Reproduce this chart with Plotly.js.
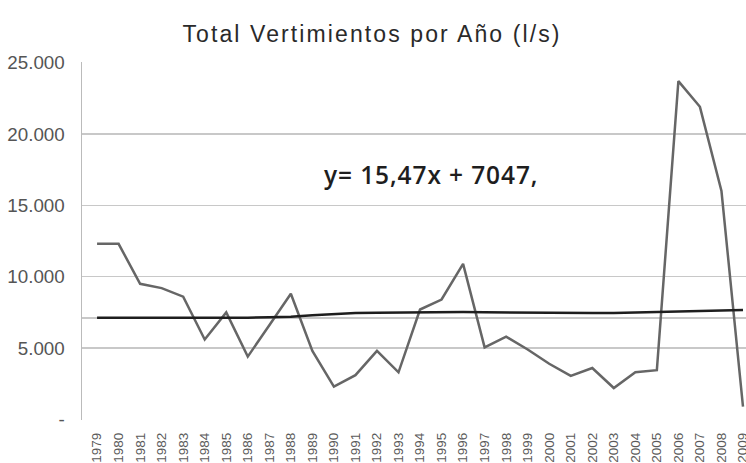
<!DOCTYPE html>
<html>
<head>
<meta charset="utf-8">
<script src="https://cdn.plot.ly/plotly-3.0.1.min.js"></script>
<style>
html,body{margin:0;padding:0;background:#fff;}
#chart{width:746px;height:463px;}
.gtitle{letter-spacing:2.1px;}
.annotation-text{letter-spacing:0.9px;}
</style>
</head>
<body>
<div id="chart"></div>
<script>
const years = [1979,1980,1981,1982,1983,1984,1985,1986,1987,1988,1989,1990,1991,1992,1993,1994,1995,1996,1997,1998,1999,2000,2001,2002,2003,2004,2005,2006,2007,2008,2009];
const yearLabels = years.map(String);
const vertimientos = [12300,12300,9500,9200,8600,5600,7500,4400,6600,8800,4800,2300,3100,4800,3300,7700,8400,10900,5050,5800,4900,3900,3050,3600,2200,3300,3450,23700,21900,16000,900];
const tendencia = [7130,7130,7120,7110,7100,7100,7110,7130,7160,7200,7300,7400,7450,7480,7500,7510,7520,7520,7500,7480,7470,7450,7440,7450,7460,7490,7530,7560,7590,7620,7660];
const lineaBase = 7100;
const yTickVals = [0,5000,10000,15000,20000,25000];
const yTickText = ['-','5.000','10.000','15.000','20.000','25.000'];
const titulo = 'Total Vertimientos por Año (l/s)';
const ecuacion = 'y= 15,47x + 7047,';

const traces = [
  {x: years, y: vertimientos, type: 'scatter', mode: 'lines',
   line: {color: '#666666', width: 2.5}, hoverinfo: 'skip'},
  {x: years, y: tendencia, type: 'scatter', mode: 'lines',
   line: {color: '#1e1e1e', width: 2.5}, hoverinfo: 'skip'}
];

const layout = {
  width: 746, height: 463,
  margin: {l: 82, r: 0, t: 62, b: 43},
  paper_bgcolor: '#ffffff', plot_bgcolor: '#ffffff',
  showlegend: false,
  title: {text: titulo, font: {family: 'Liberation Sans, Arial, sans-serif', size: 23, color: '#2a2a2a'},
          x: 372/746, xanchor: 'center', xref: 'container', yref: 'container', y: 1 - 34/463, yanchor: 'middle'},
  xaxis: {type: 'linear', range: [1978.30, 2009.14], tickvals: years, ticktext: yearLabels,
          tickangle: -90, ticks: '', ticklabelstandoff: 9, ticklabeloverflow: 'allow',
          showgrid: false, zeroline: false, showline: false,
          tickfont: {family: 'Liberation Sans, Arial, sans-serif', size: 13.5, color: '#5a5a5a'}, automargin: false},
  yaxis: {range: [-40, 25040], tickvals: yTickVals, ticktext: yTickText, ticks: '',
          ticklabelstandoff: 12, showgrid: true, gridcolor: '#c8c8c8', gridwidth: 1.6,
          zeroline: false, showline: true, linecolor: '#bbbbbb', linewidth: 1.5,
          tickfont: {family: 'Liberation Sans, Arial, sans-serif', size: 18.8, color: '#555555'}, automargin: false},
  shapes: [
    {type: 'line', xref: 'paper', x0: 0, x1: 1, yref: 'y', y0: lineaBase, y1: lineaBase,
     line: {color: '#c8c8c8', width: 2}, layer: 'below'}
  ],
  annotations: [
    {text: ecuacion, xref: 'x', yref: 'y', x: 1994.5, y: 17150, xanchor: 'center', yanchor: 'middle',
     showarrow: false, font: {family: 'Open Sans, sans-serif', size: 24.5, color: '#1e1e1e', weight: 600}}
  ]
};

Plotly.newPlot('chart', traces, layout, {displayModeBar: false, staticPlot: true});
</script>
</body>
</html>
